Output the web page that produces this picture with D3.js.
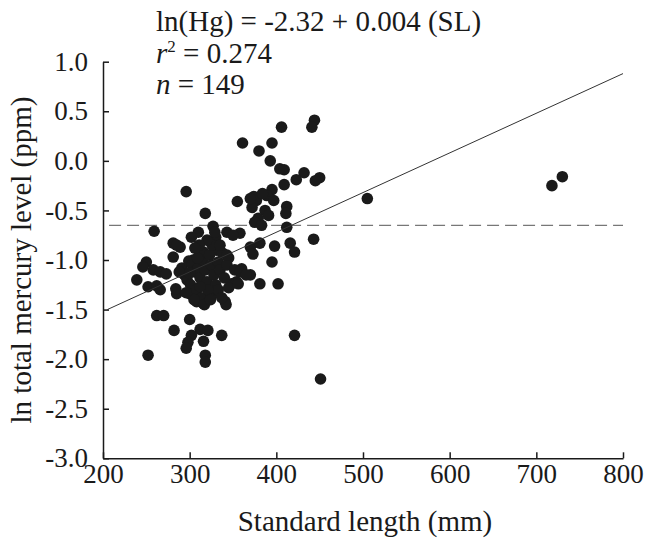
<!DOCTYPE html>
<html>
<head>
<meta charset="utf-8">
<script src="https://cdn.jsdelivr.net/npm/d3@7"></script>
<style>
	body { margin: 0; background: #fff; }
	svg { display: block; }
	.axis path, .axis line { stroke: #1a1a1a; stroke-width: 1.5; }
	.axis text { font-family: "Liberation Serif", "LiberationSerif", "Tinos", "Nimbus Roman", "Times New Roman", "DejaVu Serif", serif; font-size: 27px; fill: #1a1a1a; }
	.label { font-family: "Liberation Serif", "LiberationSerif", "Tinos", "Nimbus Roman", "Times New Roman", "DejaVu Serif", serif; font-size: 29px; fill: #1a1a1a; }
</style>
</head>
<body>
<div id="chart"></div>
<script>
// standard length (mm) and ln total Hg (ppm)
var lengths = [
	444, 441, 406, 361, 395, 380, 393, 404, 409, 432, 423, 450, 445, 409, 296, 395, 389, 397, 374, 377,
	355, 372, 387, 391, 412, 411, 318, 379, 375, 383, 505, 718, 730, 384, 370,
	412, 327, 259, 310, 302, 343, 358, 350, 443, 281, 289, 329, 331, 370, 373, 381, 398, 416, 421, 281,
	312, 304, 395, 285, 330, 250, 246, 239, 258, 266, 273, 252, 262, 266, 285, 284, 300, 308, 316, 345,
	360, 370, 381, 402, 348, 354, 341, 342, 327, 322,
	291, 294, 299, 297, 303, 306, 301, 310, 312, 308, 315, 318, 320, 316, 323, 325, 328, 330, 333, 335,
	338, 340, 343, 326, 320, 335, 314, 305, 296, 288, 352, 358, 365, 333, 321, 345, 311, 317, 329,
	262, 270, 282, 300, 312, 321, 316, 302, 298, 296, 318, 318, 252, 337, 421, 451,
	309, 324, 337, 300, 312, 356, 343, 306
];
var lnHg = [
	0.41, 0.34, 0.34, 0.18, 0.18, 0.10, 0.00, -0.08, -0.09, -0.12, -0.19, -0.17, -0.20, -0.24, -0.31, -0.29, -0.35, -0.40, -0.36, -0.40,
	-0.41, -0.47, -0.50, -0.55, -0.46, -0.53, -0.53, -0.58, -0.62, -0.65, -0.38, -0.25, -0.16, -0.33, -0.38,
	-0.67, -0.66, -0.71, -0.72, -0.77, -0.72, -0.73, -0.75, -0.79, -0.83, -0.87, -0.80, -0.90, -0.87, -0.94, -0.83, -0.86, -0.83, -0.92, -0.97,
	-0.93, -1.00, -1.02, -0.85, -0.77, -1.02, -1.07, -1.20, -1.10, -1.12, -1.14, -1.27, -1.26, -1.30, -1.34, -1.29, -1.34, -1.42, -1.44, -0.98,
	-1.09, -1.15, -1.24, -1.24, -1.24, -1.22, -1.42, -1.45, -1.34, -1.36,
	-1.08, -1.15, -1.01, -1.20, -1.05, -1.12, -1.25, -1.08, -1.18, -1.30, -1.00, -1.10, -1.22, -0.92, -0.95, -1.05, -1.15, -1.25, -1.02, -1.10,
	-0.93, -1.18, -1.05, -0.85, -0.80, -0.85, -1.38, -1.40, -1.33, -1.12, -1.10, -1.12, -1.15, -1.30, -1.30, -1.28, -0.85, -1.45, -0.72,
	-1.56, -1.56, -1.71, -1.60, -1.70, -1.71, -1.82, -1.76, -1.83, -1.89, -1.96, -2.03, -1.96, -1.76, -1.76, -2.20,
	-0.98, -1.40, -1.38, -1.13, -1.27, -1.24, -0.95, -0.88
];
var xTicks = [200, 300, 400, 500, 600, 700, 800];
var yTicks = [1.0, 0.5, 0.0, -0.5, -1.0, -1.5, -2.0, -2.5, -3.0];
var fitIntercept = -2.32, fitSlope = 0.004, fitRange = [205, 800];
var threshold = -0.65, thresholdRange = [207, 800];

var width = 647, height = 538,
	margin = {top: 61.7, right: 24, bottom: 79.7, left: 103};

var x = d3.scaleLinear().domain([200, 800]).range([margin.left, width - margin.right]),
	y = d3.scaleLinear().domain([-3, 1]).range([height - margin.bottom, margin.top]);

var svg = d3.select("#chart").append("svg")
	.attr("width", width)
	.attr("height", height);

// axes, ticks point into the plot
var xAxis = svg.append("g")
	.attr("class", "axis")
	.attr("transform", "translate(0," + y(-3) + ")")
	.call(d3.axisBottom(x).tickValues(xTicks).tickSizeInner(-6).tickSizeOuter(0).tickPadding(6).tickFormat(d3.format("d")));

var yAxis = svg.append("g")
	.attr("class", "axis")
	.attr("transform", "translate(" + x(200) + ",0)")
	.call(d3.axisLeft(y).tickValues(yTicks).tickSizeInner(-6).tickSizeOuter(0).tickPadding(15).tickFormat(d3.format(".1f")));

// d3 sets a sans-serif family on the axis groups, drop it
xAxis.attr("font-family", null).attr("font-size", null);
yAxis.attr("font-family", null).attr("font-size", null);
svg.selectAll(".axis text").text(function() { return this.textContent.replace("\u2212", "-"); });

// dashed reference level
svg.append("line")
	.attr("x1", x(thresholdRange[0])).attr("x2", x(thresholdRange[1]))
	.attr("y1", y(threshold)).attr("y2", y(threshold))
	.attr("stroke", "#555")
	.attr("stroke-width", 1)
	.attr("stroke-dasharray", "12,6");

// points
svg.append("g")
  .selectAll("circle")
	.data(lengths.map(function(d, i) { return [d, lnHg[i]]; }))
  .enter().append("circle")
	.attr("cx", function(d) { return x(d[0]); })
	.attr("cy", function(d) { return y(d[1]); })
	.attr("r", 5.8)
	.attr("fill", "#1a1a1a");

// regression line
svg.append("line")
	.attr("x1", x(fitRange[0])).attr("y1", y(fitIntercept + fitSlope * fitRange[0]))
	.attr("x2", x(fitRange[1])).attr("y2", y(fitIntercept + fitSlope * fitRange[1]))
	.attr("stroke", "#333")
	.attr("stroke-width", 1);

// axis titles
svg.append("text")
	.attr("class", "label")
	.attr("x", (x(200) + x(800)) / 2 + 2)
	.attr("y", 531)
	.attr("text-anchor", "middle")
	.text("Standard length (mm)");

svg.append("text")
	.attr("class", "label")
	.attr("transform", "translate(31," + 260 + ") rotate(-90)")
	.attr("text-anchor", "middle")
	.text("ln total mercury level (ppm)");

// regression summary
var note = svg.append("g");
note.append("text").attr("class", "label").attr("x", 156).attr("y", 31)
	.text("ln(Hg) = -2.32 + 0.004 (SL)");
var r2 = note.append("text").attr("class", "label").attr("x", 156).attr("y", 63);
r2.append("tspan").style("font-style", "italic").text("r");
r2.append("tspan").attr("dy", -11).style("font-size", "17px").text("2");
r2.append("tspan").attr("dy", 11).text(" = 0.274");
var n = note.append("text").attr("class", "label").attr("x", 156).attr("y", 94);
n.append("tspan").style("font-style", "italic").text("n");
n.append("tspan").text(" = 149");
</script>
</body>
</html>
